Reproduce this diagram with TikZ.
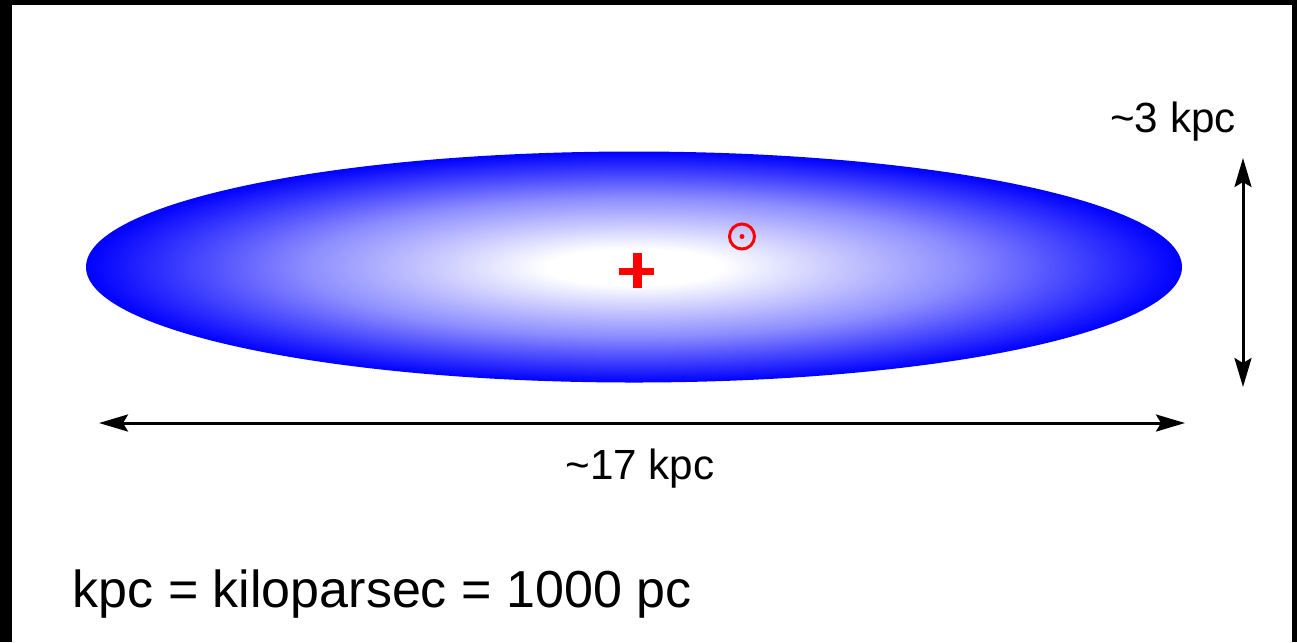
\documentclass[tikz,border=0pt]{standalone}
\usepackage{fontspec}
\setmainfont{Liberation Sans}
\usepackage{tikz}
\usetikzlibrary{arrows.meta}
\definecolor{galaxyblue}{HTML}{0000FF}
\definecolor{markred}{HTML}{FF0000}
\pgfdeclareradialshading{galaxydisc}{\pgfpoint{0bp}{0bp}}{color(0bp)=(white); color(4bp)=(white); color(15bp)=(galaxyblue!45); color(25bp)=(galaxyblue); color(50bp)=(galaxyblue)}

\begin{document}
\begin{tikzpicture}[
  x=0.1mm, y=-0.1mm,
  dimarrow/.style={{Stealth[length=2.9mm, width=1.7mm, inset=0.5mm]}-{Stealth[length=2.9mm, width=1.7mm, inset=0.5mm]}, line width=0.3mm, color=black},
  dimtext/.style={anchor=base, inner sep=0pt, font=\fontsize{12pt}{14pt}\selectfont},
  notetext/.style={anchor=base west, inner sep=0pt, font=\fontsize{14.8pt}{17pt}\selectfont},
  marker/.style={draw=markred, line width=0.3mm}
]
  \useasboundingbox (0,0) rectangle (1297,642);
  \fill[black] (0,0) rectangle (1297,642);
  \fill[white] (12,5) rectangle (1292,642);

  \shade[shading=galaxydisc] (634,267) ellipse [x radius=54.8mm, y radius=11.55mm];

  \fill[markred] (619,268) rectangle (654,275);
  \fill[markred] (633,253) rectangle (642,288);
  \draw[marker] (742,236.5) circle [radius=1.25mm];
  \fill[markred] (742,236.5) circle [radius=0.25mm];

  \coordinate (wleft) at (99,423);
  \coordinate (wright) at (1185,423);
  \coordinate (htop) at (1243,158);
  \coordinate (hbottom) at (1243,387);
  \draw[dimarrow] (wleft) -- (wright);
  \draw[dimarrow] (htop) -- (hbottom);

  \node[dimtext] (width) at (640,479) {\textasciitilde17 kpc};
  \node[dimtext] (height) at (1173,132) {\textasciitilde3 kpc};
  \node[notetext] (unit) at (72,607) {kpc = kiloparsec = 1000 pc};
\end{tikzpicture}
\end{document}
